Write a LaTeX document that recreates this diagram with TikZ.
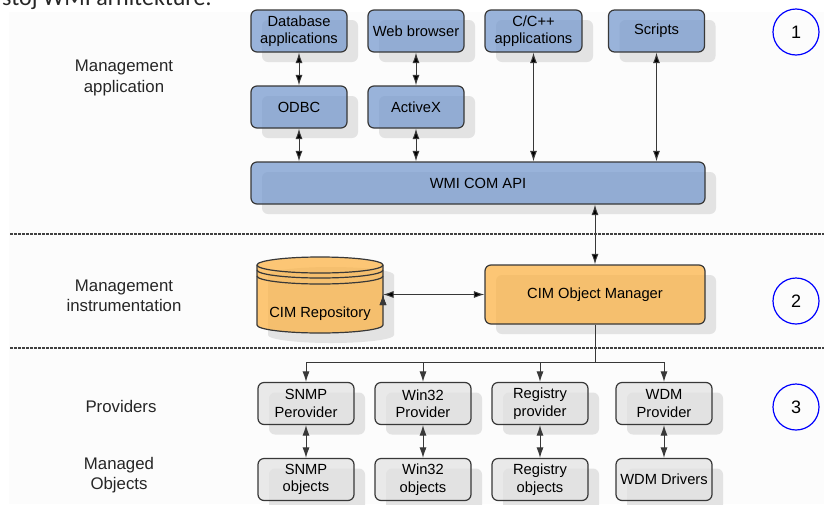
\documentclass[tikz,border=0pt]{standalone}
\usepackage{fontspec}
\setmainfont{Liberation Sans}
\newfontfamily\headfont{Carlito}
\usetikzlibrary{arrows.meta,positioning,shadows}

\definecolor{boxblue}{HTML}{7397CD}
\definecolor{boxorange}{HTML}{FCB241}
\definecolor{boxgray}{HTML}{E2E2E2}
\definecolor{shadowgray}{HTML}{E3E3E3}
\definecolor{edgegray}{HTML}{383838}

\tikzset{
  box/.style={draw=edgegray, line width=1.2pt, rounded corners=6pt,
    minimum width=96pt, minimum height=42pt, inner sep=1pt, align=center,
    font=\fontsize{14.7}{17.5}\selectfont, fill opacity=0.72, text opacity=1,
    drop shadow={shadow xshift=11pt, shadow yshift=-10pt, fill=shadowgray, opacity=1}},
  lbl/.style={align=center, font=\fontsize{16.8}{20.5}\selectfont, text=black!85},
  num/.style={circle, draw=blue, line width=1.2pt, minimum size=46pt, inner sep=0pt,
    font=\fontsize{18}{18}\selectfont},
  conn/.style={draw=edgegray, line width=1pt},
  sep/.style={draw=black!75, line width=1.1pt, dash pattern=on 2.5pt off 1.5pt}
}

\begin{document}
\begin{tikzpicture}[x=1pt,y=-1pt,>={Latex[length=10.5pt,width=7pt]},node distance=76pt,on grid]
\clip (0,0) rectangle (824,504);
\fill[black!1] (9,12) rectangle (824,504);
\node[anchor=base west, inner sep=0pt, font=\headfont\fontsize{24}{24}\selectfont, text=black!85] (head) at (2,5) {stoj WMI arhitekture:};

\node[box, fill=boxblue] (db_app) at (299,31) {Database\\applications};
\node[box, fill=boxblue] (web_br) at (416,31) {Web browser};
\node[box, fill=boxblue, minimum width=97pt] (cpp_app) at (533.5,31) {C/C++\\applications};
\node[box, fill=boxblue] (scripts) at (656.5,31) {Scripts};
\node[box, fill=boxblue] (odbc) [below=of db_app] {ODBC};
\node[box, fill=boxblue] (activex) [below=of web_br] {ActiveX};
\node[box, fill=boxblue, minimum width=454pt] (wmi_api) at (478,183) {WMI COM API};

\node[box, fill=boxorange, minimum width=220pt, minimum height=59pt] (cim_om) at (595,294.5) {CIM Object Manager};

\fill[shadowgray] (268,275) -- (268,335) arc[start angle=180,end angle=360,x radius=63pt,y radius=8pt]
  -- (394,275) arc[start angle=0,end angle=180,x radius=63pt,y radius=8pt] -- cycle;
\filldraw[fill=boxorange, fill opacity=0.72, draw=edgegray, line width=1.2pt]
  (257,265) -- (257,325) arc[start angle=180,end angle=360,x radius=63pt,y radius=8pt]
  -- (383,265) arc[start angle=0,end angle=180,x radius=63pt,y radius=8pt] -- cycle;
\draw[edgegray, line width=1.2pt] (257,265) arc[start angle=180,end angle=360,x radius=63pt,y radius=8pt];
\draw[edgegray, line width=1.2pt] (257,270) arc[start angle=180,end angle=360,x radius=63pt,y radius=8pt];
\draw[edgegray, line width=1.2pt] (257,276) arc[start angle=180,end angle=360,x radius=63pt,y radius=8pt];
\node[font=\fontsize{14.7}{17.5}\selectfont] (cim_rep) at (320,314) {CIM Repository};
\coordinate (rep_side) at (383,294.5);

\node[box, fill=boxgray] (snmp_p) at (306,403.5) {SNMP\\Perovider};
\node[box, fill=boxgray] (win_p) at (423,403.5) {Win32\\Provider};
\node[box, fill=boxgray] (reg_p) at (540,403.5) {Registry\\provider};
\node[box, fill=boxgray] (wdm_p) at (664,403.5) {WDM\\Provider};
\node[box, fill=boxgray] (snmp_o) [below=of snmp_p] {SNMP\\objects};
\node[box, fill=boxgray] (win_o) [below=of win_p] {Win32\\objects};
\node[box, fill=boxgray] (reg_o) [below=of reg_p] {Registry\\objects};
\node[box, fill=boxgray] (wdm_o) [below=of wdm_p] {WDM Drivers};

\path[<->, conn]
  (db_app) edge (odbc)
  (web_br) edge (activex)
  (odbc) edge (odbc |- wmi_api.north)
  (activex) edge (activex |- wmi_api.north)
  (cpp_app) edge (cpp_app |- wmi_api.north)
  (scripts) edge (scripts |- wmi_api.north)
  (cim_om) edge (cim_om |- wmi_api.south)
  (rep_side) edge (cim_om);

\coordinate (bus) at (595,362);
\draw[conn] (cim_om) -- (bus);
\draw[conn] (snmp_p |- bus) -- (wdm_p |- bus);
\foreach \p in {snmp_p,win_p,reg_p,wdm_p}
  \draw[conn,->] (\p |- bus) -- (\p);
\foreach \p/\o in {snmp_p/snmp_o,win_p/win_o,reg_p/reg_o,wdm_p/wdm_o}
  \draw[conn,<->] (\p) -- (\o);

\draw[sep] (10,234) -- (824,234);
\draw[sep] (10,348) -- (824,348);

\node[num] (n_1) at (796,32) {1};
\node[num] (n_2) at (796,301) {2};
\node[num] (n_3) at (796,407) {3};

\node[lbl] (l_app) at (124,78) {Management\\application};
\node[lbl] (l_inst) at (124,296) {Management\\instrumentation};
\node[lbl] (l_prov) at (121,406) {Providers};
\node[lbl] (l_obj) at (119,475) {Managed\\Objects};
\end{tikzpicture}
\end{document}
